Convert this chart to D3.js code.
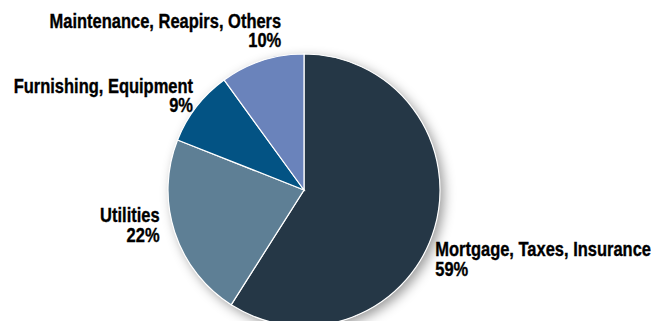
<!DOCTYPE html>
<html>
<head>
<meta charset="utf-8">
<script src="https://cdn.jsdelivr.net/npm/d3@7"></script>
<style>
  body { margin: 0; background: #fff; }
  text { font-family: "Liberation Sans", Arial, sans-serif; font-weight: bold; font-size: 19.5px; fill: #000; stroke: #000; stroke-width: 0.35px; }
</style>
</head>
<body>
<div id="content"></div>
<script>
const categories = ["Mortgage, Taxes, Insurance", "Utilities", "Furnishing, Equipment", "Maintenance, Reapirs, Others"];
const shares = [59, 22, 9, 10];
const colors = ["#253746", "#5e7f95", "#035384", "#6a83bb"];

// label placement relative to slice centroid on the label ring
const labelAnchor = ["start", "end", "end", "end"];
const labelShift = [[-8, 26], [-6.5, -12.5], [3.6, -8.4], [22, -24.4]];

const width = 666;
const height = 321;
const cx = 304;
const cy = 190;
const radius = 136;
const narrow = 0.845;   // condensed look
const lineGap = 19.5;

const svg = d3.select("#content")
    .append("svg")
    .attr("width", width)
    .attr("height", height);

const defs = svg.append("defs");
const shadow = defs.append("filter")
    .attr("id", "shadow")
    .attr("x", "-20%").attr("y", "-20%")
    .attr("width", "140%").attr("height", "140%");
shadow.append("feDropShadow")
    .attr("dx", 4)
    .attr("dy", 4)
    .attr("stdDeviation", 6)
    .attr("flood-color", "#000")
    .attr("flood-opacity", 0.4);

const data = categories.map((c, i) => ({ name: c, value: shares[i], color: colors[i], i: i }));

const pie = d3.pie()
    .value(d => d.value)
    .sort(null);

const arc = d3.arc()
    .innerRadius(0)
    .outerRadius(radius);

const labelArc = d3.arc()
    .innerRadius(radius + 9)
    .outerRadius(radius + 9);

const g = svg.append("g")
    .attr("transform", `translate(${cx}, ${cy})`);

g.append("circle")
    .attr("r", radius)
    .attr("fill", "#fff")
    .attr("filter", "url(#shadow)");

g.selectAll("path")
    .data(pie(data))
    .enter()
    .append("path")
    .attr("d", arc)
    .attr("fill", d => d.data.color)
    .attr("stroke", "#fff")
    .attr("stroke-width", 1.2);

const labels = g.selectAll("text.label")
    .data(pie(data))
    .enter()
    .append("text")
    .attr("class", "label")
    .attr("text-anchor", d => labelAnchor[d.data.i])
    .attr("transform", d => {
        const [x, y] = labelArc.centroid(d);
        const s = labelShift[d.data.i];
        return `translate(${x + s[0]}, ${y + s[1]}) scale(${narrow}, 1)`;
    });

labels.append("tspan")
    .attr("x", 0)
    .attr("y", 0)
    .text(d => d.data.name);

labels.append("tspan")
    .attr("x", 0)
    .attr("y", lineGap)
    .text(d => d.data.value + "%");
</script>
</body>
</html>
